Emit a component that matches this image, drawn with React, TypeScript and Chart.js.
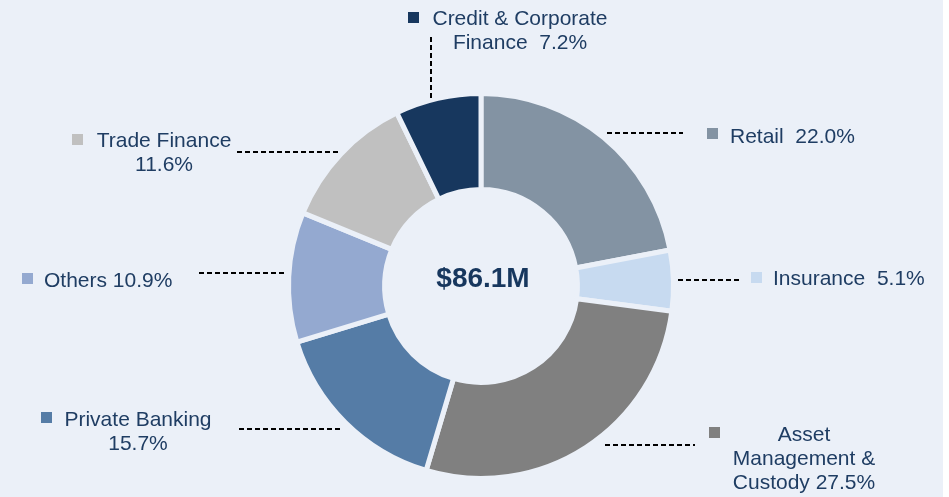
import React, { useEffect, useRef } from "react";
import { Chart, registerables } from "chart.js";

Chart.register(...registerables);

const categories = [
  "Retail",
  "Insurance",
  "Asset Management & Custody",
  "Private Banking",
  "Others",
  "Trade Finance",
  "Credit & Corporate Finance",
];
const shares = [22.0, 5.1, 27.5, 15.7, 10.9, 11.6, 7.2];
const colors = ["#8393a3", "#c7daf0", "#808080", "#557ca6", "#94a9d0", "#c0c0c0", "#17375e"];
const centerLabel = "$86.1M";

const BG = "#ebf0f8";
const TEXT = "#1f3d63";

// label text lines (built from categories/shares)
const fmt = (v: number) => v.toFixed(1) + "%";
const labelLines: string[][] = [
  [`${categories[0]}  ${fmt(shares[0])}`],
  [`${categories[1]}  ${fmt(shares[1])}`],
  ["Asset", "Management &", `Custody ${fmt(shares[2])}`],
  [categories[3], fmt(shares[3])],
  [`${categories[4]} ${fmt(shares[4])}`],
  [categories[5], fmt(shares[5])],
  ["Credit & Corporate", `Finance  ${fmt(shares[6])}`],
];

// layout of annotations (offsets relative to doughnut centre)
type Lay = {
  line: [number, number, number, number];
  sq: [number, number];
  align: "left" | "center";
  tx: number;
  ty: number;
};
const layout: Lay[] = [
  { line: [126, -153, 202, -153], sq: [226, -158], align: "left", tx: 249, ty: -143 },
  { line: [197, -6, 259, -6], sq: [270, -14], align: "left", tx: 292, ty: -1 },
  { line: [124, 159, 214, 159], sq: [228, 141], align: "center", tx: 323, ty: 155 },
  { line: [-242, 143, -140, 143], sq: [-440, 126], align: "center", tx: -343, ty: 140 },
  { line: [-282, -13, -196, -13], sq: [-459, -13], align: "left", tx: -437, ty: 1 },
  { line: [-244, -134, -143, -134], sq: [-409, -152], align: "center", tx: -317, ty: -139 },
  { line: [-50, -249, -50, -186], sq: [-73, -274], align: "center", tx: 39, ty: -261 },
];

const annotPlugin = {
  id: "annot",
  afterDraw(chart: any) {
    const ctx = chart.ctx as CanvasRenderingContext2D;
    const arc = chart.getDatasetMeta(0).data[0];
    const cx = arc.x;
    const cy = arc.y;
    ctx.save();
    // centre label
    ctx.font = "bold 28px 'Liberation Sans', Arial, sans-serif";
    ctx.fillStyle = "#17375e";
    ctx.textAlign = "center";
    ctx.textBaseline = "middle";
    ctx.fillText(centerLabel, cx + 2, cy - 7);

    ctx.textBaseline = "alphabetic";
    ctx.font = "21px 'Liberation Sans', Arial, sans-serif";
    layout.forEach((l, i) => {
      // leader line
      ctx.strokeStyle = "#000";
      ctx.lineWidth = 2;
      ctx.setLineDash([5, 3]);
      ctx.beginPath();
      ctx.moveTo(cx + l.line[0], cy + l.line[1]);
      ctx.lineTo(cx + l.line[2], cy + l.line[3]);
      ctx.stroke();
      ctx.setLineDash([]);
      // square marker
      ctx.fillStyle = colors[i];
      ctx.fillRect(cx + l.sq[0], cy + l.sq[1], 11, 11);
      // text
      ctx.fillStyle = TEXT;
      ctx.textAlign = l.align;
      labelLines[i].forEach((t, j) => {
        ctx.fillText(t, cx + l.tx, cy + l.ty + j * 24);
      });
    });
    ctx.restore();
  },
};

export default function App() {
  const ref = useRef<HTMLCanvasElement | null>(null);
  useEffect(() => {
    document.body.style.margin = "0";
    const chart = new Chart(ref.current as HTMLCanvasElement, {
      type: "doughnut",
      data: {
        labels: categories,
        datasets: [
          {
            data: shares,
            backgroundColor: colors,
            borderColor: BG,
            borderWidth: 5,
            borderAlign: "center",
          },
        ],
      },
      options: {
        responsive: false,
        animation: false,
        cutout: "50.1%",
        layout: { padding: { top: 91, bottom: 16, left: 286, right: 267 } },
        plugins: { legend: { display: false }, tooltip: { enabled: false } },
      },
      plugins: [annotPlugin],
    });
    return () => chart.destroy();
  }, []);
  return (
    <div style={{ width: 949, height: 497, background: "#ffffff" }}>
      <div style={{ width: 943, height: 497, background: BG }}>
        <canvas ref={ref} width={943} height={497} style={{ display: "block" }} />
      </div>
    </div>
  );
}
